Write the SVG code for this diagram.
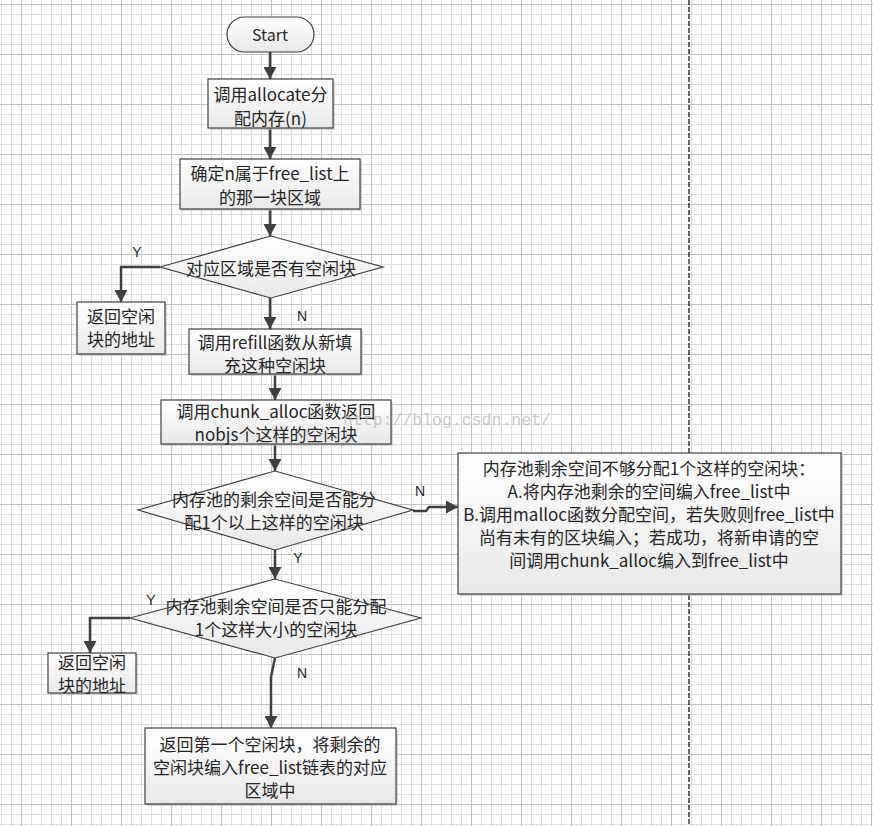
<svg xmlns="http://www.w3.org/2000/svg" width="873" height="826" viewBox="0 0 873 826">
<style>
.box{fill:url(#g);stroke:#404040;stroke-width:1.2}
.sh{fill:#bdbdbd;opacity:0.6}
.t{font-family:"Noto Sans CJK SC","Noto Sans",sans-serif;font-size:17px;fill:#262626;text-anchor:middle;dominant-baseline:central}
.lb{font-family:"Liberation Sans",Arial,sans-serif;font-size:14px;fill:#262626;text-anchor:middle;dominant-baseline:central}
.c{fill:none;stroke:#404040;stroke-width:2.5;marker-end:url(#ah)}
</style>
<defs>
<pattern id="grid" x="21" y="4" width="50" height="50" patternUnits="userSpaceOnUse">
<path d="M10.5 0V50M20.5 0V50M30.5 0V50M40.5 0V50M0 10.5H50M0 20.5H50M0 30.5H50M0 40.5H50" stroke="#dedede" stroke-width="1" fill="none"/>
<path d="M0.5 0V50M0 0.5H50" stroke="#c4c4c4" stroke-width="1" fill="none"/>
</pattern>
<linearGradient id="g" x1="0" y1="0" x2="0" y2="1">
<stop offset="0" stop-color="#ffffff"/>
<stop offset="1" stop-color="#e9e9e9"/>
</linearGradient>
<marker id="ah" markerUnits="userSpaceOnUse" markerWidth="13" markerHeight="13" refX="12" refY="6.5" orient="auto">
<path d="M0,0 L12,6.5 L0,13 z" fill="#404040"/>
</marker>
</defs>
<rect width="873" height="826" fill="#ffffff"/>
<rect width="873" height="826" fill="url(#grid)"/>
<line x1="689" y1="0" x2="689" y2="826" stroke="#000" stroke-width="1.2" stroke-dasharray="5,2"/>

<g id="connectors">
<path class="c" d="M270 52V79"/>
<path class="c" d="M270 128V159"/>
<path class="c" d="M270 209V236"/>
<path class="c" d="M160 267H121V302"/>
<path class="c" d="M270 298V329"/>
<path class="c" d="M275 374V400"/>
<path class="c" d="M275 444V471"/>
<path class="c" d="M413 511H426L429 507H458"/>
<path class="c" d="M275 550V579"/>
<path class="c" d="M130 618H90V653"/>
<path class="c" d="M275 658L271 677V728"/>
<text class="lb" x="137" y="252">Y</text>
<text class="lb" x="302" y="316">N</text>
<text class="lb" x="420" y="491">N</text>
<text class="lb" x="298" y="558">Y</text>
<text class="lb" x="151" y="600">Y</text>
<text class="lb" x="302" y="673">N</text>
</g>

<g id="start">
<rect x="227" y="17" width="87" height="35" rx="17.5" class="box"/>
<text class="t" x="270" y="34" style="font-size:16px">Start</text>
</g>

<g id="n_allocate">
<rect class="sh" x="210" y="81" width="125" height="49"/>
<rect class="box" x="208" y="79" width="125" height="49"/>
<text class="t" x="270.5" y="93">调用allocate分</text>
<text class="t" x="270.5" y="117">配内存(n)</text>
</g>

<g id="n_locate">
<rect class="sh" x="182" y="161" width="180" height="50"/>
<rect class="box" x="180" y="159" width="180" height="50"/>
<text class="t" x="270" y="172.5">确定n属于free_list上</text>
<text class="t" x="270" y="196">的那一块区域</text>
</g>

<g id="d_hasfree">
<polygon class="box" points="160,267 271,236 383,267 271,298"/>
<text class="t" x="271" y="267">对应区域是否有空闲块</text>
</g>

<g id="n_return1">
<rect class="sh" x="79" y="304" width="88" height="52"/>
<rect class="box" x="77" y="302" width="88" height="52"/>
<text class="t" x="121" y="315.5">返回空闲</text>
<text class="t" x="121" y="338.5">块的地址</text>
</g>

<g id="n_refill">
<rect class="sh" x="191" y="331" width="172" height="45"/>
<rect class="box" x="189" y="329" width="172" height="45"/>
<text class="t" x="275" y="341">调用refill函数从新填</text>
<text class="t" x="275" y="364">充这种空闲块</text>
</g>

<g id="n_chunk">
<rect class="sh" x="163" y="402" width="230" height="44"/>
<rect class="box" x="161" y="400" width="230" height="44"/>
<text class="t" x="276" y="410.5">调用chunk_alloc函数返回</text>
<text class="t" x="276" y="433.5">nobjs个这样的空闲块</text>
</g>

<g id="d_enough">
<polygon class="box" points="138,510 275,471 413,510 275,550"/>
<text class="t" x="274" y="498">内存池的剩余空间是否能分</text>
<text class="t" x="274" y="521">配1个以上这样的空闲块</text>
</g>

<g id="n_notenough">
<rect class="sh" x="460" y="455" width="383" height="141"/>
<rect class="box" x="458" y="453" width="383" height="141"/>
<text class="t" x="649" y="467">内存池剩余空间不够分配1个这样的空闲块：</text>
<text class="t" x="649" y="490">A.将内存池剩余的空间编入free_list中</text>
<text class="t" x="649" y="513">B.调用malloc函数分配空间，若失败则free_list中</text>
<text class="t" x="649" y="536">尚有未有的区块编入；若成功，将新申请的空</text>
<text class="t" x="649" y="559">间调用chunk_alloc编入到free_list中</text>
</g>

<g id="d_onlyone">
<polygon class="box" points="130,618 275,579 421,618 275,658"/>
<text class="t" x="276" y="605">内存池剩余空间是否只能分配</text>
<text class="t" x="276" y="628">1个这样大小的空闲块</text>
</g>

<g id="n_return2">
<rect class="sh" x="50" y="655" width="88" height="40"/>
<rect class="box" x="48" y="653" width="88" height="40"/>
<text class="t" x="92" y="661">返回空闲</text>
<text class="t" x="92" y="684">块的地址</text>
</g>

<g id="n_final">
<rect class="sh" x="147" y="730" width="251" height="76"/>
<rect class="box" x="145" y="728" width="251" height="76"/>
<text class="t" x="270" y="743">返回第一个空闲块，将剩余的</text>
<text class="t" x="270" y="766">空闲块编入free_list链表的对应</text>
<text class="t" x="270" y="789">区域中</text>
</g>

<text x="343" y="425" style="font-family:'Liberation Mono',monospace;font-size:16.5px;fill:#b4b4b4;opacity:0.7">http://blog.csdn.net/</text>
</svg>
